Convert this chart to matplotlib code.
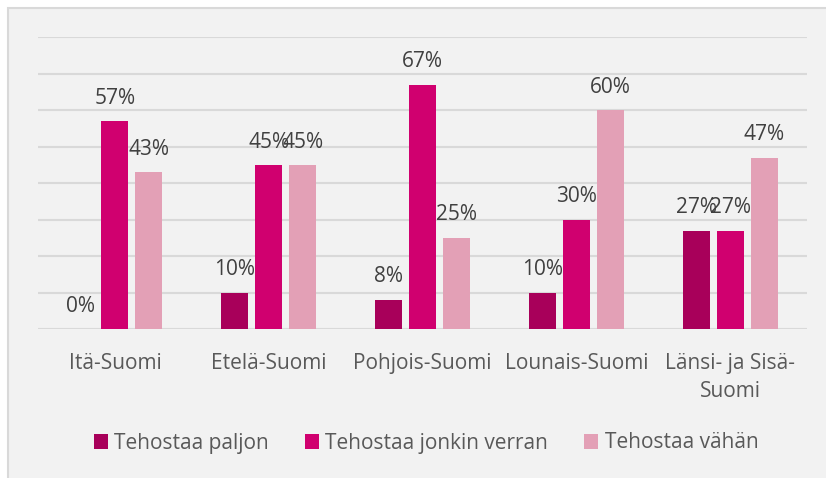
import matplotlib
matplotlib.use("Agg")
import matplotlib.pyplot as plt
import numpy as np
from matplotlib.patches import Rectangle

categories = ["Itä-Suomi", "Etelä-Suomi", "Pohjois-Suomi", "Lounais-Suomi", "Länsi- ja Sisä-\nSuomi"]
series_names = ["Tehostaa paljon", "Tehostaa jonkin verran", "Tehostaa vähän"]
paljon = [0, 10, 8, 10, 27]
jonkin = [57, 45, 67, 30, 27]
vahan = [43, 45, 25, 60, 47]
colors = ["#A8005A", "#D0006F", "#E3A0B6"]

plt.rcParams['font.family'] = ['Open Sans', 'DejaVu Sans']

W, H = 826, 478
fig = plt.figure(figsize=(W/100, H/100), dpi=100)
fig.patch.set_facecolor("white")
fig.patches.append(Rectangle((8/W, -0.05), 1.1, (H-8)/H + 0.05, transform=fig.transFigure,
                             facecolor="#F2F2F2", edgecolor="#D9D9D9", linewidth=1.5, zorder=-5))

left, right, top, bottom = 38, 807, 37.3, 329
ax = fig.add_axes([left/W, 1-bottom/H, (right-left)/W, (bottom-top)/H])
ax.set_facecolor("none")
ax.set_zorder(2)

x = np.arange(len(categories))
bw = 0.175
step = 0.221
txtcol = "#404040"
fs = 15
for i, (vals, c, name) in enumerate(zip([paljon, jonkin, vahan], colors, series_names)):
    pos = x + (i-1)*step
    ax.bar(pos, vals, width=bw, color=c, label=name, zorder=3)
    for p, v in zip(pos, vals):
        ax.annotate(f"{v}%", (p, v), xytext=(0, 12.5), textcoords="offset points",
                    ha="center", va="baseline", fontsize=fs, color=txtcol, zorder=4)

ax.set_xlim(-0.5, len(categories)-0.5)
ax.set_ylim(0, 80)
ax.set_yticks(np.arange(0, 81, 10))
ax.yaxis.grid(True, color="#D9D9D9", linewidth=1.5, zorder=1)
ax.set_axisbelow(True)
for s in ax.spines.values():
    s.set_visible(False)
ax.tick_params(axis="y", left=False, labelleft=False)
ax.tick_params(axis="x", bottom=False, pad=14)
ax.set_xticks(x)
ax.set_xticklabels(categories, fontsize=fs, color="#595959", linespacing=1.4)

leg = fig.legend(loc="center", bbox_to_anchor=(426/W, 1-443/H), ncol=3, frameon=False,
                 fontsize=fs, handlelength=0.7, handleheight=0.7, handletextpad=0.3,
                 columnspacing=1.7, labelcolor="#595959")
leg.set_zorder(3)

fig.savefig("out.png", dpi=100, facecolor=fig.get_facecolor())
